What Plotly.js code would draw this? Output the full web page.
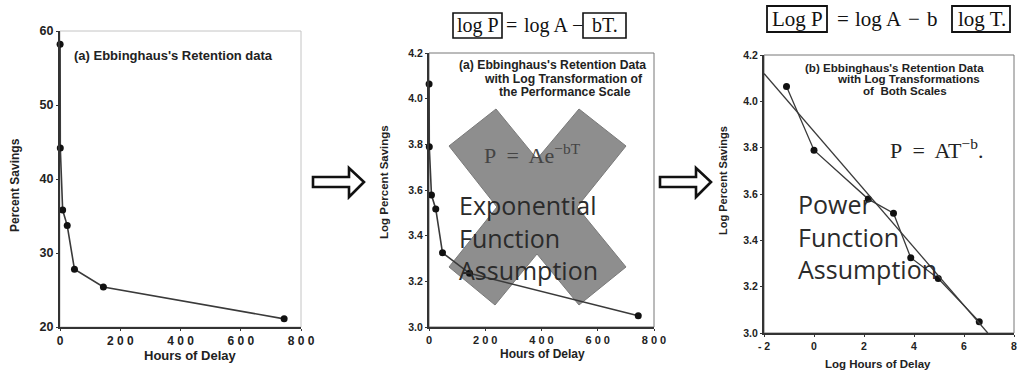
<!DOCTYPE html>
<html><head><meta charset="utf-8">
<script src="https://cdn.plot.ly/plotly-3.0.1.min.js"></script>
<style>html,body{margin:0;padding:0;background:#fff}</style>
</head><body><div id="chart" style="width:1024px;height:374px"></div>
<script>
// ---- data ----
const delayHours = [0.33, 1, 8.8, 24, 48, 144, 744];
const percentSavings = [58.2, 44.2, 35.8, 33.7, 27.8, 25.4, 21.1];
const logPercentSavings = [4.064, 3.789, 3.578, 3.517, 3.325, 3.235, 3.049];
const logDelayHours = [-1.10, 0.0, 2.17, 3.18, 3.87, 4.97, 6.61];
const fitLogHours = [-2.0, 6.95];
const fitLogSavings = [4.12, 3.0];

const hoursTickVals = [0, 200, 400, 600, 800];
const hoursTickText = ['0', '2 0 0', '4 0 0', '6 0 0', '8 0 0'];
const pctTickVals = [20, 30, 40, 50, 60];
const pctTickText = ['20', '30', '40', '50', '60'];
const logPctTickVals = [3.0, 3.2, 3.4, 3.6, 3.8, 4.0, 4.2];
const logPctTickText = ['3.0', '3.2', '3.4', '3.6', '3.8', '4.0', '4.2'];
const logHoursTickVals = [-2, 0, 2, 4, 6, 8];
const logHoursTickText = ['- 2', '0', '2', '4', '6', '8'];

// ---- layout helpers ----
const W = 1024, H = 374;
const px = x => x / W, py = y => 1 - y / H;
function path(pts) {
  return 'M ' + pts.map(p => px(p[0]).toFixed(5) + ' ' + py(p[1]).toFixed(5)).join(' L ') + ' Z';
}
const bold = (size, color) => ({family: 'Liberation Sans, Arial, sans-serif', size: size, color: color || '#222', weight: 700});
const serif = (size, color) => ({family: 'Liberation Serif, Times New Roman, serif', size: size, color: color || '#111'});
const big = {family: 'Open Sans, sans-serif', size: 25, color: '#2b2b2b'};

const lineStyle = {color: '#3a3a3a', width: 1.6};
const markerStyle = {color: '#111', size: 7};

const traces = [
  {x: delayHours, y: percentSavings, xaxis: 'x', yaxis: 'y', type: 'scatter', mode: 'lines+markers',
   line: lineStyle, marker: markerStyle, cliponaxis: false},
  {x: delayHours, y: logPercentSavings, xaxis: 'x2', yaxis: 'y2', type: 'scatter', mode: 'lines+markers',
   line: lineStyle, marker: markerStyle, cliponaxis: false},
  {x: logDelayHours, y: logPercentSavings, xaxis: 'x3', yaxis: 'y3', type: 'scatter', mode: 'lines+markers',
   line: {color: '#3a3a3a', width: 1.3}, marker: markerStyle, cliponaxis: false},
  {x: fitLogHours, y: fitLogSavings, xaxis: 'x3', yaxis: 'y3', type: 'scatter', mode: 'lines',
   line: {color: '#3a3a3a', width: 1.3}, cliponaxis: false}
];

function ax(dom, range, vals, text, anchor, fs) {
  return {domain: dom, range: range, tickvals: vals, ticktext: text, anchor: anchor,
    showline: true, linecolor: '#333', linewidth: 2, ticks: 'outside', ticklen: 2, tickcolor: '#333',
    showgrid: false, zeroline: false, tickfont: bold(fs), fixedrange: true};
}

const xShape = [[449,146],[496,109],[537,159],[579,109],[626,146],[577,207],[626,267],[579,305],[537,254],[495,305],[449,267],[497,207]];
const arrow = dx => [[313+dx,177],[349+dx,177],[349+dx,168],[364+dx,182],[349+dx,197],[349+dx,187],[313+dx,187]];

const shapes = [
  {type: 'rect', xref: 'x domain', yref: 'y domain', x0: 0, x1: 1, y0: 0, y1: 1, line: {color: '#c4c4c4', width: 1}, layer: 'below'},
  {type: 'rect', xref: 'x2 domain', yref: 'y2 domain', x0: 0, x1: 1, y0: 0, y1: 1, line: {color: '#777', width: 1}, layer: 'below'},
  {type: 'rect', xref: 'x3 domain', yref: 'y3 domain', x0: 0, x1: 1, y0: 0, y1: 1, line: {color: '#777', width: 1}, layer: 'below'},
  {type: 'path', xref: 'paper', yref: 'paper', path: path(xShape), fillcolor: '#8e8e8e', line: {color: '#7a7a7a', width: 1}, layer: 'below'},
  {type: 'path', xref: 'paper', yref: 'paper', path: path(arrow(0)), fillcolor: '#fff', line: {color: '#111', width: 2.6}},
  {type: 'path', xref: 'paper', yref: 'paper', path: path(arrow(347)), fillcolor: '#fff', line: {color: '#111', width: 2.6}},
  // formula boxes
  {type: 'rect', xref: 'paper', yref: 'paper', x0: px(453), x1: px(502), y0: py(38), y1: py(13), line: {color: '#111', width: 1.6}},
  {type: 'rect', xref: 'paper', yref: 'paper', x0: px(583), x1: px(626), y0: py(38), y1: py(13), line: {color: '#111', width: 1.6}},
  {type: 'rect', xref: 'paper', yref: 'paper', x0: px(767), x1: px(827), y0: py(32), y1: py(6), line: {color: '#111', width: 1.8}},
  {type: 'rect', xref: 'paper', yref: 'paper', x0: px(952), x1: px(1010), y0: py(32), y1: py(6), line: {color: '#111', width: 1.8}}
];

function ann(text, x, y, font, opts) {
  return Object.assign({text: text, xref: 'paper', yref: 'paper', x: px(x), y: py(y), showarrow: false,
    font: font, xanchor: 'center', yanchor: 'middle'}, opts || {});
}

const annotations = [
  // axis titles
  ann('Percent Savings', 15, 185, bold(12), {textangle: -90}),
  ann('Hours of Delay', 190, 355, bold(13)),
  ann('Log Percent Savings', 384, 182, bold(11.5), {textangle: -90}),
  ann('Hours of Delay', 542, 354, bold(12)),
  ann('Log Percent Savings', 723, 181, bold(11), {textangle: -90}),
  ann('Log Hours of Delay', 878, 364, bold(11.5)),
  // panel captions
  ann("(a) Ebbinghaus's Retention data", 72, 55, bold(13), {xanchor: 'left'}),
  ann("(a) Ebbinghaus's Retention Data", 552, 65, bold(12.2)),
  ann("with Log Transformation of", 563, 79, bold(12.2)),
  ann("the Performance Scale", 565, 92, bold(12.2)),
  ann("(b) Ebbinghaus's Retention Data", 894, 67, bold(11.6)),
  ann("with Log Transformations", 908, 79, bold(11.6)),
  ann("of  Both Scales", 905, 91, bold(11.6)),
  // formulas
  ann('log P', 477.5, 25.5, serif(20)),
  ann('=', 511, 25.5, serif(20)),
  ann('log A', 546, 25.5, serif(20)),
  ann('\u2212', 577, 25.5, serif(20)),
  ann('bT.', 605, 25.5, serif(20)),
  ann('Log P', 797, 19, serif(21)),
  ann('=', 843, 19, serif(21)),
  ann('log A', 878, 19, serif(21)),
  ann('\u2212', 914, 19, serif(21)),
  ann('b', 932, 19, serif(21)),
  ann('log T.', 982, 19, serif(21)),
  ann('P  =  Ae<sup>\u2212bT</sup>', 532, 154, serif(22, '#444')),
  ann('P  =  AT<sup>\u2212b</sup>.', 936, 149, serif(22, '#222')),
  // big overlay text
  ann('Exponential<br>Function<br>Assumption', 457, 237, big, {xanchor: 'left', align: 'left'}),
  ann('Power<br>Function<br>Assumption', 796, 236, big, {xanchor: 'left', align: 'left'})
];

const layout = {
  width: W, height: H, margin: {l: 0, r: 0, t: 0, b: 0},
  paper_bgcolor: '#fff', plot_bgcolor: '#fff', showlegend: false,
  xaxis: ax([px(60), px(301)], [0, 800], hoursTickVals, hoursTickText, 'y', 12),
  yaxis: ax([py(327), py(31)], [20, 60], pctTickVals, pctTickText, 'x', 12.5),
  xaxis2: ax([px(429), px(654)], [0, 800], hoursTickVals, hoursTickText, 'y2', 11),
  yaxis2: ax([py(327), py(53)], [3.0, 4.2], logPctTickVals, logPctTickText, 'x2', 10.5),
  xaxis3: ax([px(764), px(1014)], [-2, 8], logHoursTickVals, logHoursTickText, 'y3', 10.5),
  yaxis3: ax([py(333), py(55)], [3.0, 4.2], logPctTickVals, logPctTickText, 'x3', 10.5),
  shapes: shapes, annotations: annotations
};

Plotly.newPlot('chart', traces, layout, {displayModeBar: false, staticPlot: true});
</script></body></html>
